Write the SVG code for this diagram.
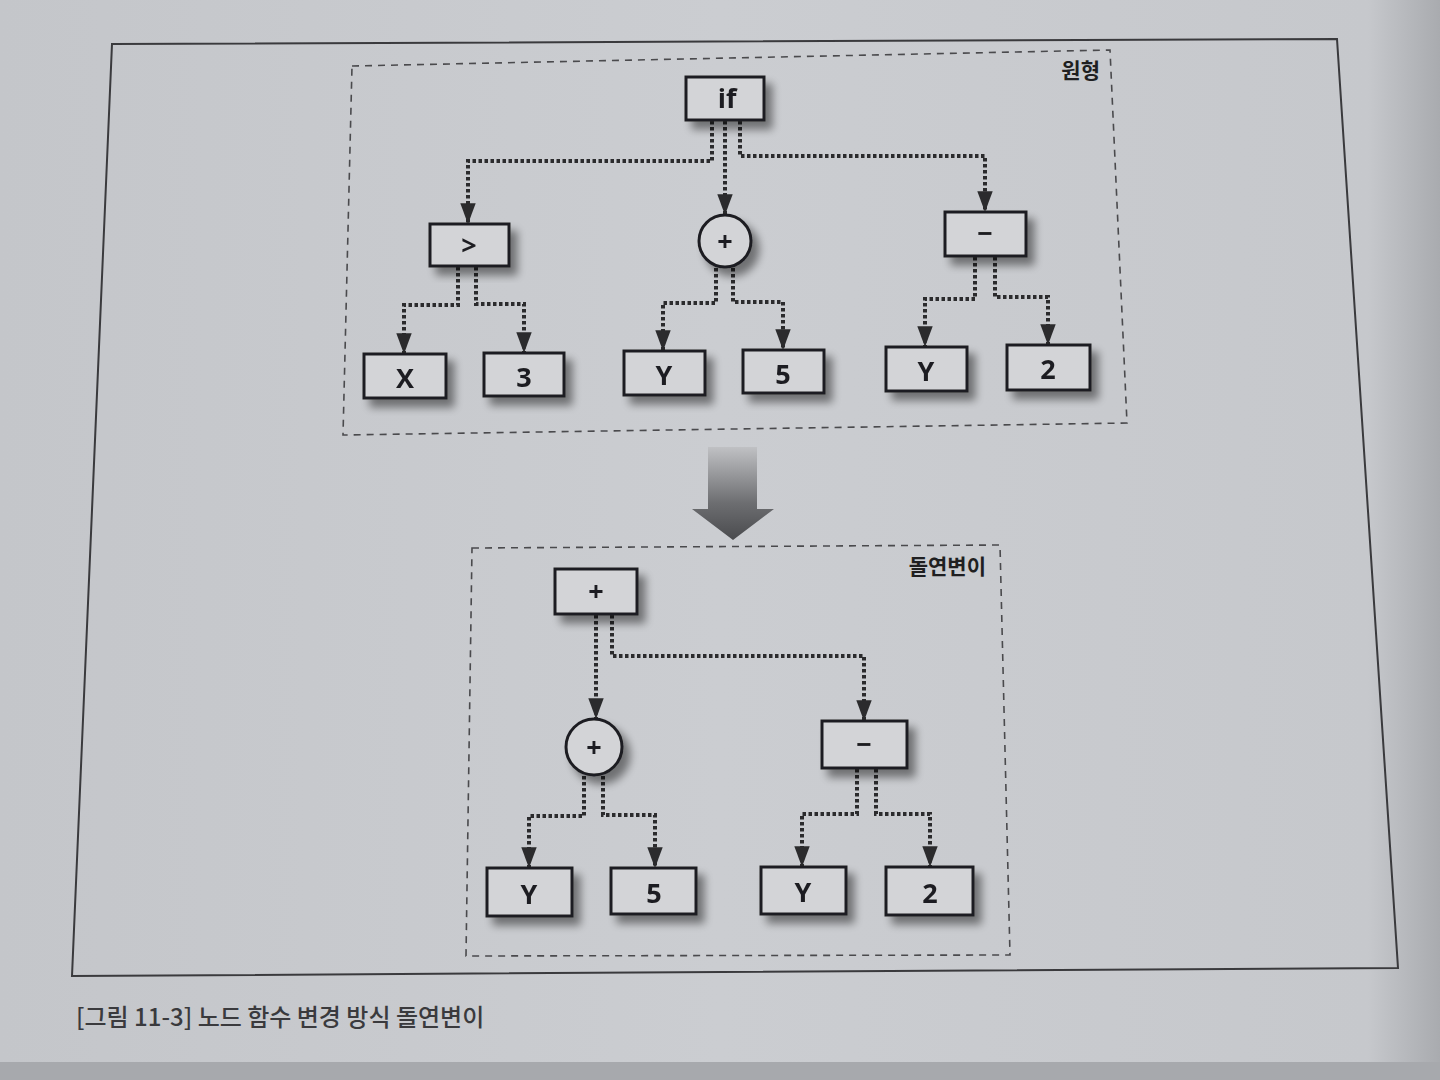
<svg xmlns="http://www.w3.org/2000/svg" width="1440" height="1080" viewBox="0 0 1440 1080">
<defs>
<linearGradient id="page" x1="0" y1="0" x2="1" y2="0">
<stop offset="0" stop-color="#c4c6ca"/>
<stop offset="0.5" stop-color="#cbcdd1"/>
<stop offset="0.95" stop-color="#c6c8cc"/>
<stop offset="1" stop-color="#a9abaf"/>
</linearGradient>
<linearGradient id="arrowGrad" x1="0" y1="0" x2="0" y2="1">
<stop offset="0" stop-color="#c0c1c4"/>
<stop offset="0.6" stop-color="#6d6e71"/>
<stop offset="1" stop-color="#4a4b4e"/>
</linearGradient>
<filter id="shadow" x="-30%" y="-30%" width="170%" height="170%">
<feGaussianBlur in="SourceAlpha" stdDeviation="4"/>
<feOffset dx="7" dy="8" result="b"/>
<feComponentTransfer><feFuncA type="linear" slope="0.45"/></feComponentTransfer>
<feMerge><feMergeNode/><feMergeNode in="SourceGraphic"/></feMerge>
</filter>
<marker id="arr" viewBox="0 0 10 10" refX="9.5" refY="5" markerWidth="5.2" markerHeight="5.2" markerUnits="strokeWidth" orient="auto">
<path d="M0,1.3 L10,5 L0,8.7 z" fill="#2b2b2d"/>
</marker>
</defs>
<style>
.node rect, .node circle { fill:#d3d4d7; stroke:#1f1f21; stroke-width:3; }
.node text { font-family:"Open Sans","Liberation Sans",sans-serif; font-weight:700; font-size:27px; fill:#1f1f21; text-anchor:middle; dominant-baseline:central; }
.conn path { fill:none; stroke:#2b2b2d; stroke-width:4; stroke-dasharray:3.5 2.5; marker-end:url(#arr); }
.group { fill:none; stroke:#4a4a4d; stroke-width:1.6; stroke-dasharray:7 6; }
.glabel { font-family:"Noto Sans CJK KR",sans-serif; font-weight:700; font-size:21px; fill:#1f1f21; text-anchor:end; }
.caption { font-family:"Noto Sans CJK KR",sans-serif; font-weight:500; font-size:24px; fill:#3a3a3d; }
</style>
<rect x="0" y="0" width="1440" height="1080" fill="url(#page)"/>
<rect x="0" y="1062" width="1440" height="18" fill="#a7a9ad"/>
<!-- outer frame -->
<polygon points="112,44 1337,39 1398,968 72,976" fill="none" stroke="#3a3a3d" stroke-width="2"/>
<!-- dashed group boxes -->
<polygon class="group" points="352,66 1110,50 1127,423 343,435"/>
<text class="glabel" x="1100" y="78">원형</text>
<polygon class="group" points="472,548 1000,545 1010,955 466,956"/>
<text class="glabel" x="986" y="574">돌연변이</text>
<!-- big arrow -->
<path d="M708,447 L757,447 L757,509 L774,509 L733,540 L692,509 L708,509 Z" fill="url(#arrowGrad)"/>
<!-- connectors -->
<g class="conn" id="connectors">
<path d="M712,121 V161 H468 V223"/>
<path d="M725,121 V214"/>
<path d="M740,121 V156 H985 V211"/>
<path d="M458,267 V305 H404 V353"/>
<path d="M476,267 V304 H524 V352"/>
<path d="M716,268 V303 H663 V350"/>
<path d="M733,268 V302 H783 V349"/>
<path d="M975,257 V299 H925 V346"/>
<path d="M995,257 V297 H1048 V344"/>
<path d="M596,615 V718"/>
<path d="M612,615 V656 H864 V720"/>
<path d="M584,776 V816 H529 V867"/>
<path d="M603,776 V815 H655 V867"/>
<path d="M857,769 V814 H802 V866"/>
<path d="M876,769 V814 H930 V866"/>
</g>
<!-- top tree nodes -->
<g class="node" id="n-if" filter="url(#shadow)"><rect x="686" y="77" width="78" height="43"/><text x="727" y="97">if</text></g>
<g class="node" id="n-gt" filter="url(#shadow)"><rect x="430" y="224" width="79" height="42"/><text x="469" y="244">&gt;</text></g>
<g class="node" id="n-plus1" filter="url(#shadow)"><circle cx="725" cy="241" r="26"/><text x="725" y="240">+</text></g>
<g class="node" id="n-minus1" filter="url(#shadow)"><rect x="945" y="212" width="81" height="44"/><text x="985" y="232">−</text></g>
<g class="node" id="n-x" filter="url(#shadow)"><rect x="364" y="354" width="82" height="44"/><text x="405" y="377">X</text></g>
<g class="node" id="n-3" filter="url(#shadow)"><rect x="484" y="353" width="80" height="43"/><text x="524" y="376">3</text></g>
<g class="node" id="n-y1" filter="url(#shadow)"><rect x="624" y="351" width="81" height="44"/><text x="664" y="374">Y</text></g>
<g class="node" id="n-5a" filter="url(#shadow)"><rect x="743" y="350" width="81" height="43"/><text x="783" y="373">5</text></g>
<g class="node" id="n-y2" filter="url(#shadow)"><rect x="886" y="347" width="81" height="44"/><text x="926" y="370">Y</text></g>
<g class="node" id="n-2a" filter="url(#shadow)"><rect x="1007" y="345" width="83" height="45"/><text x="1048" y="368">2</text></g>
<!-- bottom tree nodes -->
<g class="node" id="m-plus" filter="url(#shadow)"><rect x="555" y="569" width="82" height="45"/><text x="596" y="590">+</text></g>
<g class="node" id="m-plus2" filter="url(#shadow)"><circle cx="594" cy="747" r="28"/><text x="594" y="746">+</text></g>
<g class="node" id="m-minus" filter="url(#shadow)"><rect x="822" y="721" width="85" height="47"/><text x="864" y="743">−</text></g>
<g class="node" id="m-y1" filter="url(#shadow)"><rect x="487" y="868" width="85" height="48"/><text x="529" y="893">Y</text></g>
<g class="node" id="m-5" filter="url(#shadow)"><rect x="611" y="868" width="85" height="46"/><text x="654" y="892">5</text></g>
<g class="node" id="m-y2" filter="url(#shadow)"><rect x="761" y="867" width="85" height="47"/><text x="803" y="891">Y</text></g>
<g class="node" id="m-2" filter="url(#shadow)"><rect x="886" y="867" width="87" height="48"/><text x="930" y="892">2</text></g>
<!-- caption -->
<text class="caption" x="76" y="1026">[그림 11-3] 노드 함수 변경 방식 돌연변이</text>
</svg>
